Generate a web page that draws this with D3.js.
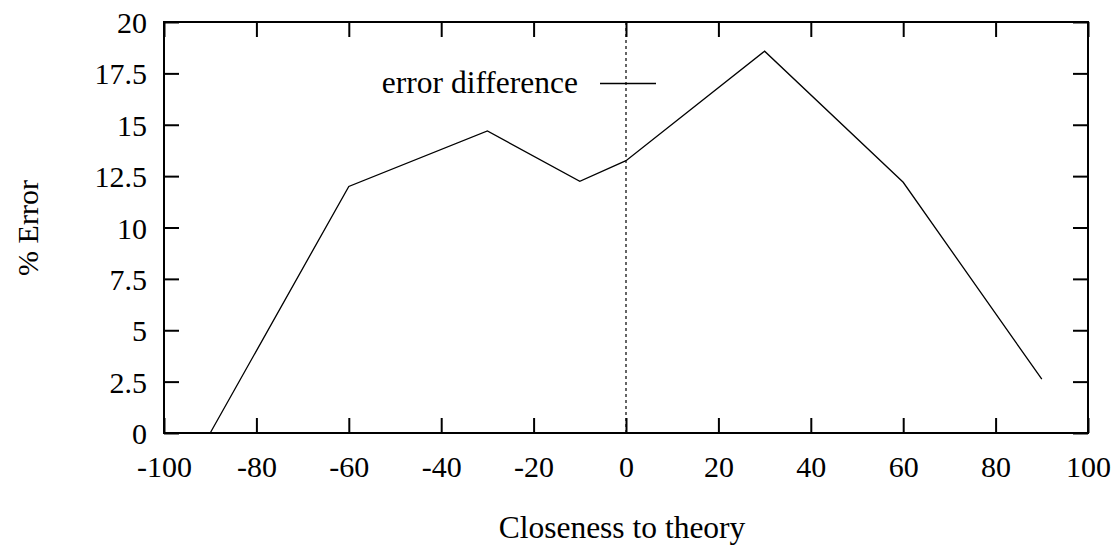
<!DOCTYPE html>
<html>
<head>
<meta charset="utf-8">
<script src="https://cdn.jsdelivr.net/npm/d3@7"></script>
<style>
  body { margin: 0; background: #fff; }
  svg { display: block; }
  text { font-family: "Liberation Serif", "Times New Roman", serif; font-size: 30px; fill: #000; }
</style>
</head>
<body>
<svg id="chart" width="1118" height="546"></svg>
<script>
(function() {
  // data
  var closeness = [-90, -60, -30, -10, 0, 30, 60, 90];
  var errorDiff = [0, 12.0, 14.7, 12.25, 13.25, 18.58, 12.2, 2.62];

  var xTicks = [-100, -80, -60, -40, -20, 0, 20, 40, 60, 80, 100];
  var yTicks = [0, 2.5, 5, 7.5, 10, 12.5, 15, 17.5, 20];

  const LEFT = 164, RIGHT = 1088, TOP = 22, BOTTOM = 433;
  const TICK = 15;
  const FONT = '"Liberation Serif", "Times New Roman", serif';

  var svg = d3.select('#chart');

  var x = d3.scaleLinear().domain([-100, 100]).range([LEFT, RIGHT]);
  var y = d3.scaleLinear().domain([0, 20]).range([BOTTOM, TOP]);

  // zero line
  svg.append('line')
    .attr('x1', x(0)).attr('x2', x(0))
    .attr('y1', y(20)).attr('y2', y(0))
    .attr('stroke', '#000')
    .attr('stroke-width', 1.2)
    .attr('stroke-dasharray', '3,3');

  function fmt(d) { return String(d); }

  var bottom = svg.append('g')
    .attr('transform', 'translate(0,' + BOTTOM + ')')
    .call(d3.axisBottom(x).tickValues(xTicks).tickFormat(fmt)
      .tickSizeInner(-TICK).tickSizeOuter(0));
  var top = svg.append('g')
    .attr('transform', 'translate(0,' + TOP + ')')
    .call(d3.axisTop(x).tickValues(xTicks).tickFormat('')
      .tickSizeInner(-TICK).tickSizeOuter(0));
  var left = svg.append('g')
    .attr('transform', 'translate(' + LEFT + ',0)')
    .call(d3.axisLeft(y).tickValues(yTicks).tickFormat(fmt)
      .tickSizeInner(-TICK).tickSizeOuter(0));
  var right = svg.append('g')
    .attr('transform', 'translate(' + RIGHT + ',0)')
    .call(d3.axisRight(y).tickValues(yTicks).tickFormat('')
      .tickSizeInner(-TICK).tickSizeOuter(0));

  [bottom, top, left, right].forEach(function(g) {
    g.attr('font-family', FONT).attr('font-size', 30);
    g.select('.domain').remove();
    g.selectAll('.tick line').attr('stroke', '#000').attr('stroke-width', 2);
    g.selectAll('text').attr('fill', '#000');
  });
  bottom.selectAll('text').attr('dy', null).attr('y', 44);
  left.selectAll('text').attr('x', -17).attr('dy', '0.35em');

  // frame
  svg.append('rect')
    .attr('x', LEFT).attr('y', TOP)
    .attr('width', RIGHT - LEFT).attr('height', BOTTOM - TOP)
    .attr('fill', 'none')
    .attr('stroke', '#000')
    .attr('stroke-width', 2);

  // data line
  var line = d3.line()
    .x(function(d, i) { return x(closeness[i]); })
    .y(function(d) { return y(d); });

  svg.append('path')
    .datum(errorDiff)
    .attr('d', line)
    .attr('fill', 'none')
    .attr('stroke', '#000')
    .attr('stroke-width', 1.3);

  // key
  svg.append('text')
    .attr('x', 578).attr('y', 93)
    .attr('text-anchor', 'end')
    .style('font-size', '31.5px')
    .text('error difference');
  svg.append('line')
    .attr('x1', 600).attr('x2', 656)
    .attr('y1', 83.5).attr('y2', 83.5)
    .attr('stroke', '#000')
    .attr('stroke-width', 1.3);

  // axis titles
  svg.append('text')
    .attr('transform', 'translate(38,228) rotate(-90)')
    .attr('text-anchor', 'middle')
    .text('% Error');
  svg.append('text')
    .attr('x', 622).attr('y', 538)
    .attr('text-anchor', 'middle')
    .style('font-size', '31.5px')
    .text('Closeness to theory');
})();
</script>
</body>
</html>
